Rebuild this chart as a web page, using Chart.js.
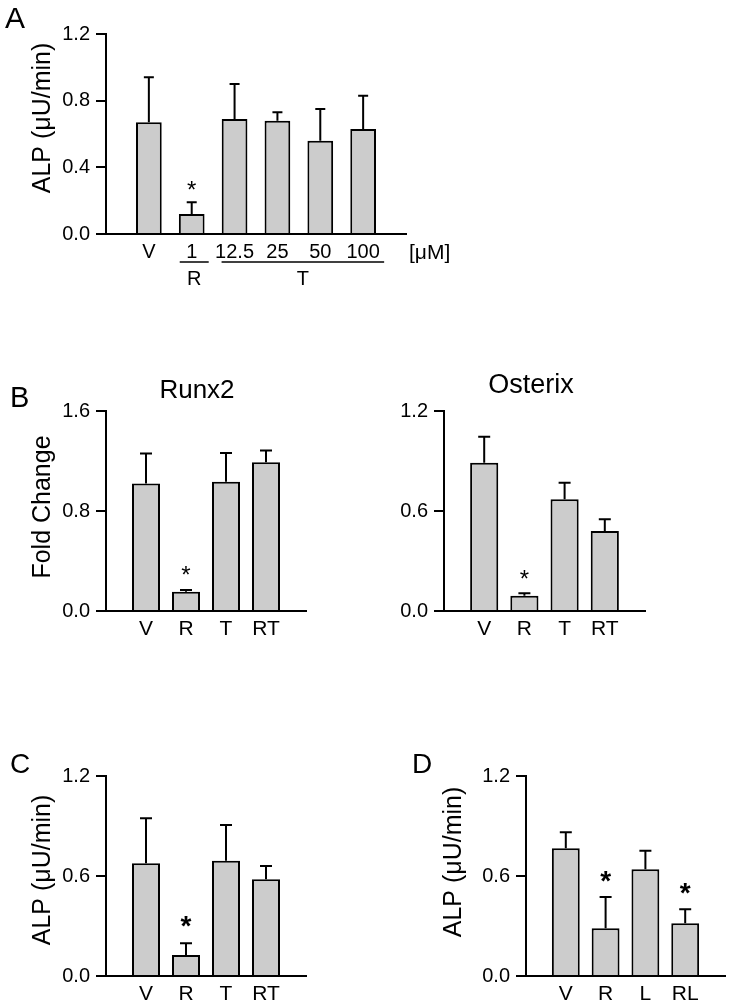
<!DOCTYPE html>
<html>
<head>
<meta charset="utf-8">
<script src="https://cdn.jsdelivr.net/npm/chart.js@4.4.1/dist/chart.umd.min.js"></script>
<style>
  body { margin: 0; background: #fff; }
  #page { position: relative; width: 731px; height: 1008px; }
  canvas { position: absolute; }
</style>
</head>
<body>
<div id="page">
  <canvas id="chartA" width="470" height="300" style="left:0px;top:0px"></canvas>
  <canvas id="chartB1" width="340" height="330" style="left:0px;top:320px"></canvas>
  <canvas id="chartB2" width="340" height="330" style="left:340px;top:320px"></canvas>
  <canvas id="chartC" width="340" height="318" style="left:0px;top:690px"></canvas>
  <canvas id="chartD" width="391" height="318" style="left:340px;top:690px"></canvas>
</div>
<script>
// A: ALP, vehicle, R 1 uM and T dose series
const doseLabels = ["V", "1", "12.5", "25", "50", "100"];
const doseMean = [0.67, 0.12, 0.69, 0.68, 0.56, 0.63];
const doseSem = [0.27, 0.07, 0.21, 0.05, 0.19, 0.2];
const doseStar = [0, 1, 0, 0, 0, 0];
const doseGroups = [
  { name: "R", from: 1, to: 1 },
  { name: "T", from: 2, to: 5 },
];
const doseTicks = [0, 0.4, 0.8, 1.2];

// B: gene expression
const groupLabels = ["V", "R", "T", "RT"];
const runx2Mean = [1.02, 0.155, 1.035, 1.19];
const runx2Sem = [0.24, 0.013, 0.23, 0.095];
const runx2Star = [0, 1, 0, 0];
const runx2Ticks = [0, 0.8, 1.6];

const osterixMean = [0.89, 0.092, 0.67, 0.48];
const osterixSem = [0.155, 0.014, 0.1, 0.07];
const osterixStar = [0, 1, 0, 0];
const osterixTicks = [0, 0.6, 1.2];

// C: ALP, R + T
const alpRtMean = [0.676, 0.126, 0.692, 0.58];
const alpRtSem = [0.27, 0.07, 0.214, 0.08];
const alpRtStar = [0, 1, 0, 0];

// D: ALP, R + L
const rlLabels = ["V", "R", "L", "RL"];
const alpRlMean = [0.766, 0.286, 0.64, 0.316];
const alpRlSem = [0.096, 0.188, 0.112, 0.084];
const alpRlStar = [0, 1, 0, 1];

const alpTicks = [0, 0.6, 1.2];

const FONT = "'Liberation Sans', Arial, sans-serif";
const pad = (arr, fill) => [fill, ...arr, fill];

// error bars (upper only) + significance stars
const errorBars = {
  id: "errorBars",
  afterDatasetsDraw(chart) {
    const ds = chart.data.datasets[0];
    const x = chart.scales.x;
    const y = chart.scales.y;
    const ctx = chart.ctx;
    ctx.save();
    ctx.strokeStyle = "#000";
    ctx.fillStyle = "#000";
    ctx.lineWidth = 2;
    ds.data.forEach((v, i) => {
      if (v == null) return;
      const px = x.getPixelForValue(i);
      const base = y.getPixelForValue(v);
      const top = y.getPixelForValue(v + ds.sem[i]);
      ctx.beginPath();
      ctx.moveTo(px, base);
      ctx.lineTo(px, top);
      ctx.moveTo(px - ds.cap / 2, top);
      ctx.lineTo(px + ds.cap / 2, top);
      ctx.stroke();
      if (ds.star[i]) {
        ctx.font = ds.starFont;
        ctx.textAlign = "center";
        ctx.textBaseline = "alphabetic";
        ctx.fillText("*", px, top - ds.starGap);
      }
    });
    ctx.restore();
  },
};

// panel letters, titles, axis titles
function textLayer(items) {
  return {
    id: "textLayer",
    afterDraw(chart) {
      const ctx = chart.ctx;
      ctx.save();
      ctx.fillStyle = "#000";
      ctx.textBaseline = "alphabetic";
      items.forEach((t) => {
        ctx.font = `${t.size}px ${FONT}`;
        ctx.textAlign = t.align || "left";
        if (t.rotate) {
          ctx.save();
          ctx.translate(t.x, t.y);
          ctx.rotate(-Math.PI / 2);
          ctx.fillText(t.text, 0, 0);
          ctx.restore();
        } else {
          ctx.fillText(t.text, t.x, t.y);
        }
      });
      ctx.restore();
    },
  };
}

// the dose axis of panel A (numbers over group lines)
const doseAxis = {
  id: "doseAxis",
  afterDraw(chart) {
    const ctx = chart.ctx;
    const x = chart.scales.x;
    const px = (i) => x.getPixelForValue(i + 1);
    ctx.save();
    ctx.fillStyle = "#000";
    ctx.strokeStyle = "#000";
    ctx.lineWidth = 1.5;
    ctx.font = `20px ${FONT}`;
    ctx.textAlign = "center";
    ctx.textBaseline = "alphabetic";
    doseLabels.forEach((lab, i) => {
      ctx.fillText(lab, px(i), 258);
    });
    doseGroups.forEach((g) => {
      const single = g.from === g.to;
      const x1 = px(g.from) - (single ? 12 : 13);
      const x2 = px(g.to) + (single ? 17 : 21);
      ctx.beginPath();
      ctx.moveTo(x1, 262);
      ctx.lineTo(x2, 262);
      ctx.stroke();
      ctx.fillText(g.name, (x1 + x2) / 2, 285);
    });
    ctx.textAlign = "left";
    ctx.font = `21px ${FONT}`;
    ctx.fillText("[\u03BCM]", 409, 259);
    ctx.restore();
  },
};

function makeChart(id, cfg) {
  const canvas = document.getElementById(id);
  const W = canvas.width;
  const H = canvas.height;
  const a = cfg.area; // left, top, right, bottom of the plot box
  return new Chart(canvas, {
    type: "bar",
    data: {
      labels: pad(cfg.labels, ""),
      datasets: [
        {
          data: pad(cfg.mean, null),
          sem: pad(cfg.sem, 0),
          star: pad(cfg.star, 0),
          cap: cfg.cap,
          starFont: cfg.starFont,
          starGap: cfg.starGap,
          backgroundColor: "#cccccc",
          borderColor: "#000",
          borderWidth: 2,
          borderSkipped: "start",
          categoryPercentage: 1,
          barPercentage: cfg.barPct,
        },
      ],
    },
    options: {
      responsive: false,
      animation: false,
      devicePixelRatio: 1,
      layout: { padding: { left: 0, top: a[1], right: W - a[2], bottom: 0 } },
      plugins: { legend: { display: false }, tooltip: { enabled: false } },
      scales: {
        x: {
          offset: false,
          grid: { display: false, drawTicks: false },
          border: { display: true, color: "#000", width: 2 },
          ticks: {
            display: cfg.showX,
            autoSkip: false,
            maxRotation: 0,
            padding: 6,
            color: "#000",
            font: { family: FONT, size: 21 },
          },
          afterFit: (s) => { s.height = H - a[3]; },
        },
        y: {
          min: 0,
          max: cfg.ticks[cfg.ticks.length - 1],
          afterBuildTicks: (s) => { s.ticks = cfg.ticks.map((v) => ({ value: v })); },
          grid: { drawOnChartArea: false, drawTicks: true, tickLength: 10, color: "#000", lineWidth: 2 },
          border: { display: true, color: "#000", width: 2 },
          ticks: {
            padding: 6,
            color: "#000",
            font: { family: FONT, size: 20 },
            callback: (v) => Number(v).toFixed(1),
          },
          afterFit: (s) => { s.width = a[0]; },
        },
      },
    },
    plugins: [errorBars, textLayer(cfg.texts)].concat(cfg.extra || []),
  });
}

const regularStar = `24px ${FONT}`;
const boldStar = `bold 28px ${FONT}`;

makeChart("chartA", {
  area: [106, 34, 406, 234],
  labels: doseLabels, mean: doseMean, sem: doseSem, star: doseStar, ticks: doseTicks,
  barPct: 0.6, cap: 10, starFont: regularStar, starGap: 4, showX: false,
  texts: [
    { text: "A", x: 5, y: 28, size: 30 },
    { text: "ALP (\u03BCU/min)", x: 50, y: 118, size: 25, align: "center", rotate: true },
  ],
  extra: [doseAxis],
});

makeChart("chartB1", {
  area: [106, 91, 306, 291],
  labels: groupLabels, mean: runx2Mean, sem: runx2Sem, star: runx2Star, ticks: runx2Ticks,
  barPct: 0.7, cap: 12, starFont: regularStar, starGap: 7, showX: true,
  texts: [
    { text: "B", x: 10, y: 87, size: 29 },
    { text: "Runx2", x: 197, y: 78, size: 26, align: "center" },
    { text: "Fold Change", x: 50, y: 187, size: 25, align: "center", rotate: true },
  ],
});

makeChart("chartB2", {
  area: [104, 91, 305, 291],
  labels: groupLabels, mean: osterixMean, sem: osterixSem, star: osterixStar, ticks: osterixTicks,
  barPct: 0.7, cap: 12, starFont: regularStar, starGap: 6, showX: true,
  texts: [
    { text: "Osterix", x: 191, y: 73, size: 27, align: "center" },
  ],
});

makeChart("chartC", {
  area: [106, 86, 306, 286],
  labels: groupLabels, mean: alpRtMean, sem: alpRtSem, star: alpRtStar, ticks: alpTicks,
  barPct: 0.7, cap: 12, starFont: boldStar, starGap: 8, showX: true,
  texts: [
    { text: "C", x: 10, y: 83, size: 28 },
    { text: "ALP (\u03BCU/min)", x: 50, y: 180, size: 25, align: "center", rotate: true },
  ],
});

makeChart("chartD", {
  area: [186, 86, 386, 286],
  labels: rlLabels, mean: alpRlMean, sem: alpRlSem, star: alpRlStar, ticks: alpTicks,
  barPct: 0.7, cap: 12, starFont: boldStar, starGap: 7, showX: true,
  texts: [
    { text: "D", x: 72, y: 83, size: 28 },
    { text: "ALP (\u03BCU/min)", x: 121, y: 172, size: 25, align: "center", rotate: true },
  ],
});
</script>
</body>
</html>
